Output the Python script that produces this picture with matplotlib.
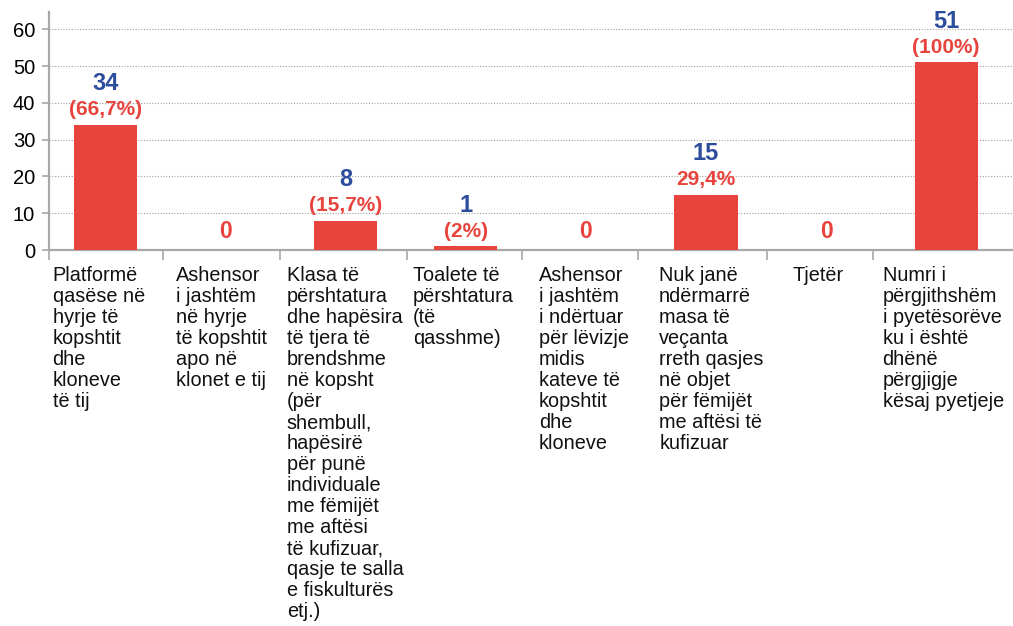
import matplotlib
matplotlib.use("Agg")
import matplotlib.pyplot as plt
import numpy as np

# ---------------- data ----------------
categories = [
    "Platformë\nqasëse në\nhyrje të\nkopshtit\ndhe\nkloneve\ntë tij",
    "Ashensor\ni jashtëm\nnë hyrje\ntë kopshtit\napo në\nklonet e tij",
    "Klasa të\npërshtatura\ndhe hapësira\ntë tjera të\nbrendshme\nnë kopsht\n(për\nshembull,\nhapësirë\npër punë\nindividuale\nme fëmijët\nme aftësi\ntë kufizuar,\nqasje te salla\ne fiskulturës\netj.)",
    "Toalete të\npërshtatura\n(të\nqasshme)",
    "Ashensor\ni jashtëm\ni ndërtuar\npër lëvizje\nmidis\nkateve të\nkopshtit\ndhe\nkloneve",
    "Nuk janë\nndërmarrë\nmasa të\nveçanta\nrreth qasjes\nnë objet\npër fëmijët\nme aftësi të\nkufizuar",
    "Tjetër",
    "Numri i\npërgjithshëm\ni pyetësorëve\nku i është\ndhënë\npërgjigje\nkësaj pyetjeje",
]
counts = [34, 0, 8, 1, 0, 15, 0, 51]
pct_labels = ["(66,7%)", None, "(15,7%)", "(2%)", None, "29,4%", None, "(100%)"]
y_ticks = [0, 10, 20, 30, 40, 50, 60]

# ---------------- layout / style ----------------
RED = "#e8443d"
BLUE = "#2c4c9c"
GREY = "#a8a8a8"
# column separators are a bit uneven in the original (data units)
SEP = [0.48, 1.45, 2.51, 3.47, 4.43, 5.51, 6.39]
# left edge of each label column (data units)
LABEL_X = [-0.44, 0.59, 1.51, 2.56, 3.61, 4.61, 5.72, 6.47]

plt.rcParams["font.family"] = ["Liberation Sans", "DejaVu Sans"]

fig = plt.figure(figsize=(10.13, 6.26), dpi=100)
ax = fig.add_axes([49 / 1013, (626 - 250) / 626, 964 / 1013, 238 / 626])

x = np.arange(len(counts))
ax.bar(x, counts, width=0.525, color=RED, zorder=3)

ax.set_xlim(-0.47, 7.556)
ax.set_ylim(0, 64.7)
ax.set_yticks(y_ticks)
ax.tick_params(axis="y", labelsize=14.5, length=5, color=GREY, width=1.2, pad=5)
ax.set_xticks([-0.47] + SEP)
ax.set_xticklabels([])
ax.tick_params(axis="x", length=7, color=GREY, width=1.2)

ax.grid(axis="y", linestyle=(0, (1, 1.5)), color="#a0a0a0", lw=0.8, zorder=0)
for s in ("top", "right"):
    ax.spines[s].set_visible(False)
for s in ("left", "bottom"):
    ax.spines[s].set_color(GREY)
    ax.spines[s].set_linewidth(1.6)

# value labels
for i, (c, p) in enumerate(zip(counts, pct_labels)):
    if c == 0:
        ax.annotate(str(c), (i, c), xytext=(0, 13), textcoords="offset points",
                    ha="center", va="center", color=RED, fontsize=16.5,
                    fontweight="bold")
        continue
    ax.annotate(p, (i, c), xytext=(0, 11), textcoords="offset points",
                ha="center", va="center", color=RED, fontsize=15,
                fontweight="bold")
    ax.annotate(str(c), (i, c), xytext=(0, 29.5), textcoords="offset points",
                ha="center", va="center", color=BLUE, fontsize=17,
                fontweight="bold")

# category labels under the axis
for lx, lab in zip(LABEL_X, categories):
    ax.annotate(lab, (lx, 0), xytext=(0, -11.5), textcoords="offset points",
                ha="left", va="top", fontsize=14.3, linespacing=1.135,
                color="#111111", annotation_clip=False)

fig.savefig("out.png", dpi=100)
